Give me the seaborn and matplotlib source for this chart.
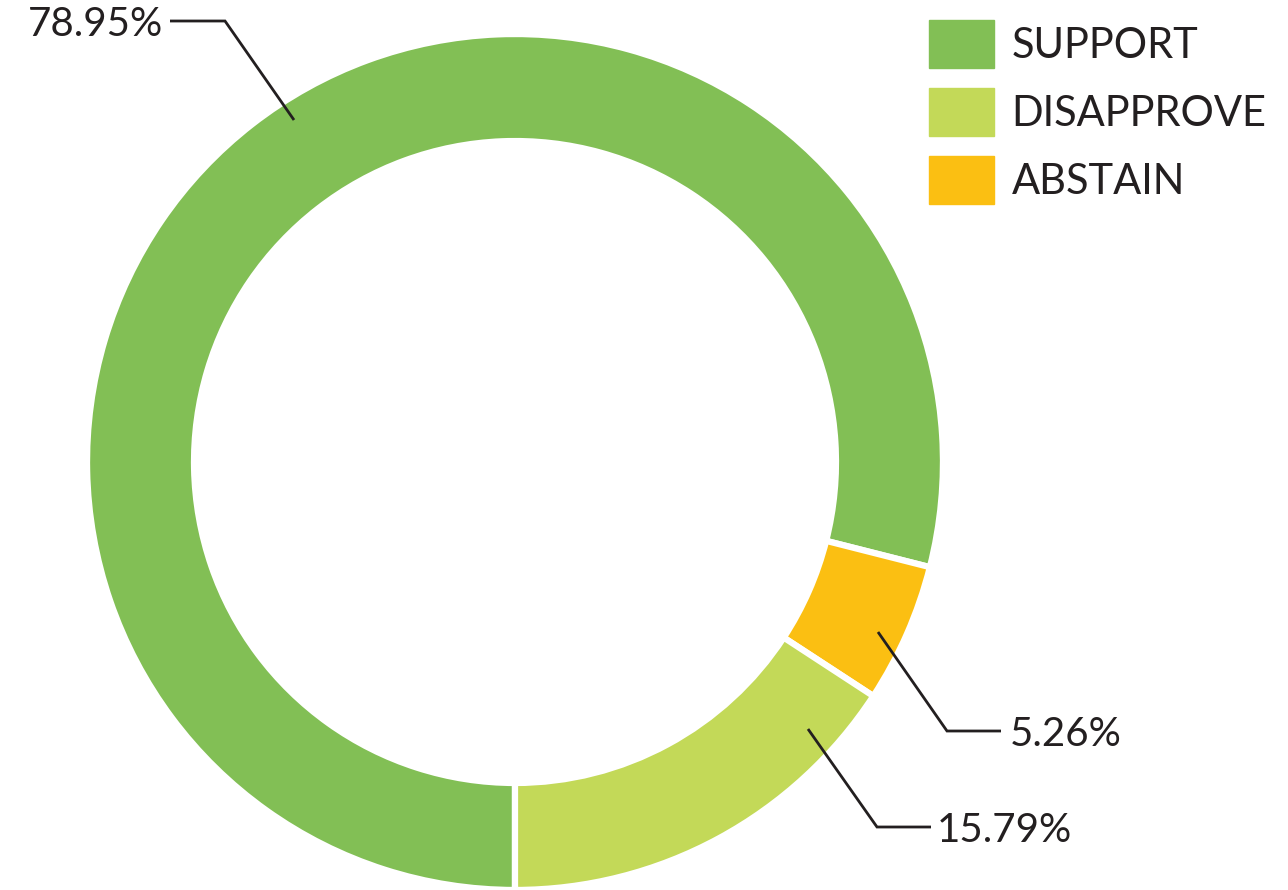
import matplotlib
matplotlib.use('Agg')
import matplotlib.pyplot as plt
import matplotlib.patches as mpatches
import seaborn as sns

# --- DATA ---
categories = ["SUPPORT", "DISAPPROVE", "ABSTAIN"]
shares = [78.95, 15.79, 5.26]
palette = ["#82bf55", "#c3d958", "#fbbf12"]
# clockwise drawing order, starting at the bottom of the ring
draw_order = ["SUPPORT", "ABSTAIN", "DISAPPROVE"]

sns.set_theme(style="white")
plt.rcParams['font.family'] = ['Lato', 'DejaVu Sans']
TXT = "#231f20"

W, H = 1288, 890
CX, CY, R = 515, 462, 425  # ring centre / outer radius in pixels

fig = plt.figure(figsize=(W / 100, H / 100), dpi=100)
ax = fig.add_axes([0, 0, 1, 1])

def px(x, y):
    # pixel position -> data units (ring radius = 1)
    return (x - CX) / R, (CY - y) / R

idx = [categories.index(c) for c in draw_order]
wedges, _ = ax.pie(
    [shares[i] for i in idx],
    colors=[palette[i] for i in idx],
    startangle=270, counterclock=False, radius=1.007,
    wedgeprops=dict(width=107 / R, edgecolor="white", linewidth=4.5),
)
ax.set_xlim((0 - CX) / R, (W - CX) / R)
ax.set_ylim((CY - H) / R, CY / R)
ax.set_aspect('auto')
ax.axis('off')

# leader lines + labels
labels = [
    ("78.95%", [(294, 120), (225, 21), (170, 21)], (163, 25), "right"),
    ("5.26%", [(878, 632), (947, 731), (1001, 731)], (1010, 735), "left"),
    ("15.79%", [(808, 729), (877, 827), (931, 827)], (937, 831), "left"),
]
for txt, pts, tpos, ha in labels:
    xs, ys = zip(*[px(*p) for p in pts])
    ax.plot(xs, ys, color=TXT, lw=2.0, solid_capstyle='butt', solid_joinstyle='miter')
    ax.text(*px(*tpos), txt, ha=ha, va='center', fontsize=29,
            fontweight='normal', color=TXT)

handles = [mpatches.Patch(color=c, label=l) for c, l in zip(palette, categories)]
leg = ax.legend(handles=handles, loc='upper left',
                bbox_to_anchor=(929 / W, 1 - 20 / H), bbox_transform=fig.transFigure,
                frameon=False, fontsize=30, handlelength=1.56, handleheight=1.394,
                handletextpad=0.42, labelspacing=0.48, borderpad=0, borderaxespad=0)
for t in leg.get_texts():
    t.set_color(TXT)
    t.set_fontweight('normal')

fig.savefig("out.png", dpi=100)
